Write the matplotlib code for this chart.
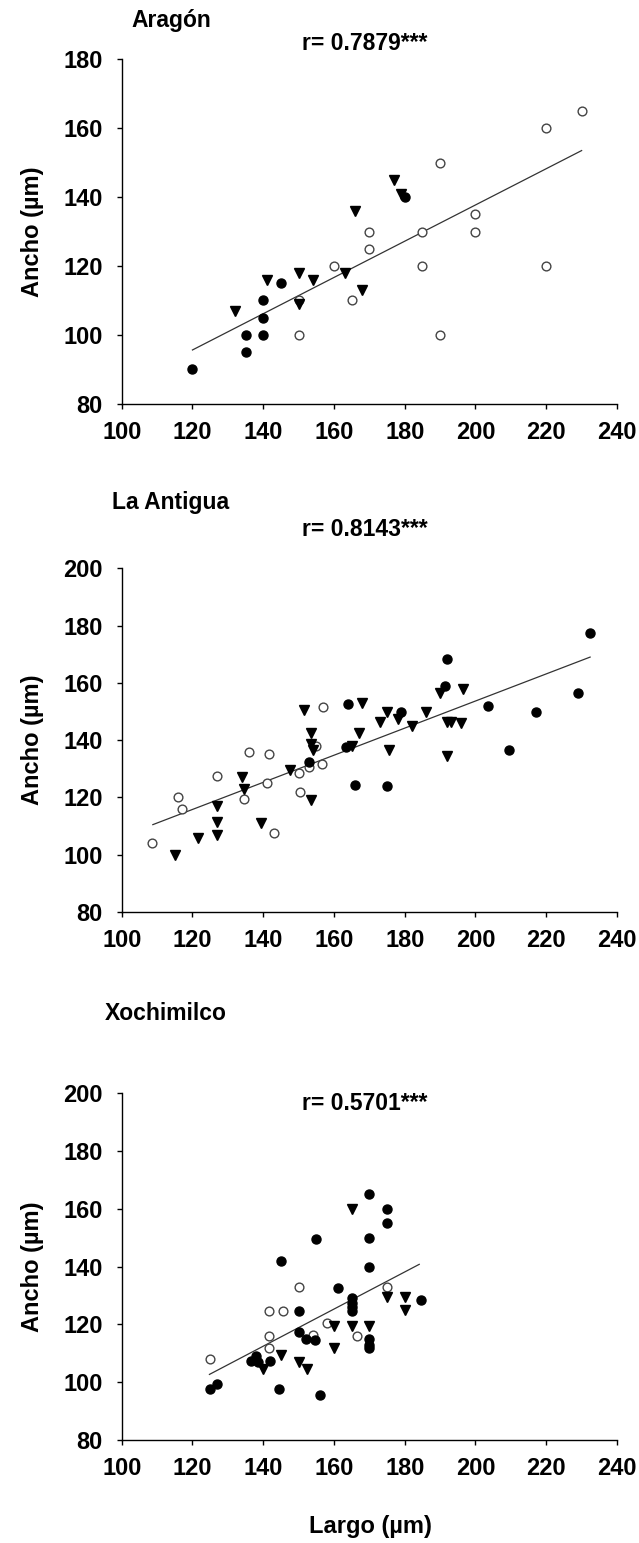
import matplotlib
matplotlib.use('Agg')
import matplotlib.pyplot as plt
import numpy as np

plt.rcParams['font.family'] = ['Liberation Sans', 'DejaVu Sans']
plt.rcParams['font.weight'] = 'bold'

W, H = 639, 1543

# Aragón
ara_filled_x = [120, 135, 135, 140, 140, 140, 145, 180]
ara_filled_y = [90, 95, 100, 100, 105, 110, 115, 140]
ara_open_x = [150, 150, 160, 165, 170, 170, 185, 185, 190, 190, 200, 200, 220, 220, 230]
ara_open_y = [100, 110, 120, 110, 130, 125, 130, 120, 150, 100, 135, 130, 160, 120, 165]
ara_tri_x = [132, 141, 150, 150, 154, 163, 168, 166, 177, 179]
ara_tri_y = [107, 116, 118, 109, 116, 118, 113, 136, 145, 141]
ara_fit_x = [120, 230]
ara_fit_y = [95.6, 153.5]

# La Antigua
ant_open_x = [108.5, 116, 117, 127, 134.5, 136, 141.5, 141, 143, 150, 150.5, 157, 153, 155, 156.5]
ant_open_y = [104, 120, 116, 127.5, 119.5, 136, 135, 125, 107.5, 128.5, 122, 151.5, 130.5, 138, 131.5]
ant_tri_x = [115, 121.5, 127, 127, 127, 134, 134.5, 139.5, 147.5, 151.5, 153.5, 153.5, 154, 153.5,
             168, 165, 167, 175.5, 173, 175, 178, 182, 186, 190, 196.5, 192, 193, 196, 192]
ant_tri_y = [100, 106, 117, 111.5, 107, 127, 123, 111, 129.5, 150.5, 142.5, 138.5, 136.5, 119,
             153, 138, 142.5, 136.5, 146.5, 150, 147.5, 145, 150, 156.5, 158, 146.5, 146.5, 146, 134.5]
ant_filled_x = [153, 164, 163.5, 166, 175, 179, 191.5, 192, 203.5, 209.5, 217, 229, 232.5]
ant_filled_y = [132.5, 152.5, 137.5, 124.5, 124, 150, 159, 168.5, 152, 136.5, 150, 156.5, 177.5]
ant_fit_x = [108.8, 232.4]
ant_fit_y = [110.5, 169]

# Xochimilco
xoc_open_x = [125, 141.5, 141.5, 141.5, 145.5, 150, 154, 158, 166.5, 175]
xoc_open_y = [108, 112, 116, 124.5, 124.5, 133, 116.5, 120.5, 116, 133]
xoc_filled_x = [125, 127, 136.5, 138, 138.5, 142, 144.5, 156, 145, 150, 150, 152, 154.5, 155,
                161, 165, 165, 165, 165, 170, 175, 175, 170, 170, 170, 170, 170, 184.5]
xoc_filled_y = [97.5, 99.5, 107.5, 109, 107, 107.5, 97.5, 95.5, 142, 124.5, 117.5, 115, 114.5, 149.5,
                132.5, 129, 127.5, 126, 124.5, 165, 160, 155, 150, 140, 115, 113, 112, 128.5]
xoc_tri_x = [140, 145, 150, 152.5, 160, 160, 165, 170, 165, 175, 180, 180]
xoc_tri_y = [104.5, 109.5, 107, 104.5, 112, 119.5, 119.5, 119.5, 160, 129.5, 129.5, 125]
xoc_fit_x = [124.8, 184.1]
xoc_fit_y = [102.7, 140.8]

panels = [
    dict(title='Aragón', r='r= 0.7879***', ylim=(80, 180),
         filled=(ara_filled_x, ara_filled_y), opn=(ara_open_x, ara_open_y),
         tri=(ara_tri_x, ara_tri_y), fit=(ara_fit_x, ara_fit_y),
         box=(59.3, 403.7), title_xy=(171, 27.5), r_xy=(302, 50)),
    dict(title='La Antigua', r='r= 0.8143***', ylim=(80, 200),
         filled=(ant_filled_x, ant_filled_y), opn=(ant_open_x, ant_open_y),
         tri=(ant_tri_x, ant_tri_y), fit=(ant_fit_x, ant_fit_y),
         box=(568.3, 912), title_xy=(171, 509), r_xy=(302, 536)),
    dict(title='Xochimilco', r='r= 0.5701***', ylim=(80, 200),
         filled=(xoc_filled_x, xoc_filled_y), opn=(xoc_open_x, xoc_open_y),
         tri=(xoc_tri_x, xoc_tri_y), fit=(xoc_fit_x, xoc_fit_y),
         box=(1093.3, 1440), title_xy=(166, 1020), r_xy=(302, 1110)),
]

fig = plt.figure(figsize=(W / 100, H / 100), dpi=100)
fig.patch.set_facecolor('white')

x_left, x_right = 121.7, 617

for p in panels:
    top, bot = p['box']
    ax = fig.add_axes([x_left / W, 1 - bot / H, (x_right - x_left) / W, (bot - top) / H])

    ax.plot(p['fit'][0], p['fit'][1], color='#333333', lw=0.9, zorder=1)
    ax.plot(p['opn'][0], p['opn'][1], 'o', ms=6.3, mfc='white', mec='#444444', mew=1.0,
            ls='none', zorder=2)
    ax.plot(p['tri'][0], p['tri'][1], 'v', ms=6.8, color='black', ls='none', zorder=3)
    ax.plot(p['filled'][0], p['filled'][1], 'o', ms=6.5, color='black', ls='none', zorder=3)

    ax.set_xlim(100, 240)
    ax.set_ylim(*p['ylim'])
    ax.set_xticks(np.arange(100, 241, 20))
    ax.set_yticks(np.arange(p['ylim'][0], p['ylim'][1] + 1, 20))
    for s in ['top', 'right']:
        ax.spines[s].set_visible(False)
    for s in ['left', 'bottom']:
        ax.spines[s].set_linewidth(1.0)
        ax.spines[s].set_clip_on(False)
    ax.tick_params(axis='both', direction='out', length=3.5, width=1.0,
                   labelsize=17)
    ax.tick_params(axis='y', pad=10)
    ax.tick_params(axis='x', pad=9)
    for lab in ax.get_xticklabels() + ax.get_yticklabels():
        lab.set_fontweight('bold')

    fig.text(p['title_xy'][0] / W, 1 - p['title_xy'][1] / H, p['title'],
             ha='center', va='baseline', fontsize=16.5, fontweight='bold')
    fig.text(p['r_xy'][0] / W, 1 - p['r_xy'][1] / H, p['r'],
             ha='left', va='baseline', fontsize=16.5, fontweight='bold')
    fig.text(33 / W, 1 - (top + bot) / 2 / H, 'Ancho (µm)', rotation=90,
             ha='center', va='center', fontsize=17, fontweight='bold')

fig.text(370 / W, 1 - 1526 / H, 'Largo (µm)', ha='center', va='center',
         fontsize=17, fontweight='bold')

fig.savefig('out.png', dpi=100)
